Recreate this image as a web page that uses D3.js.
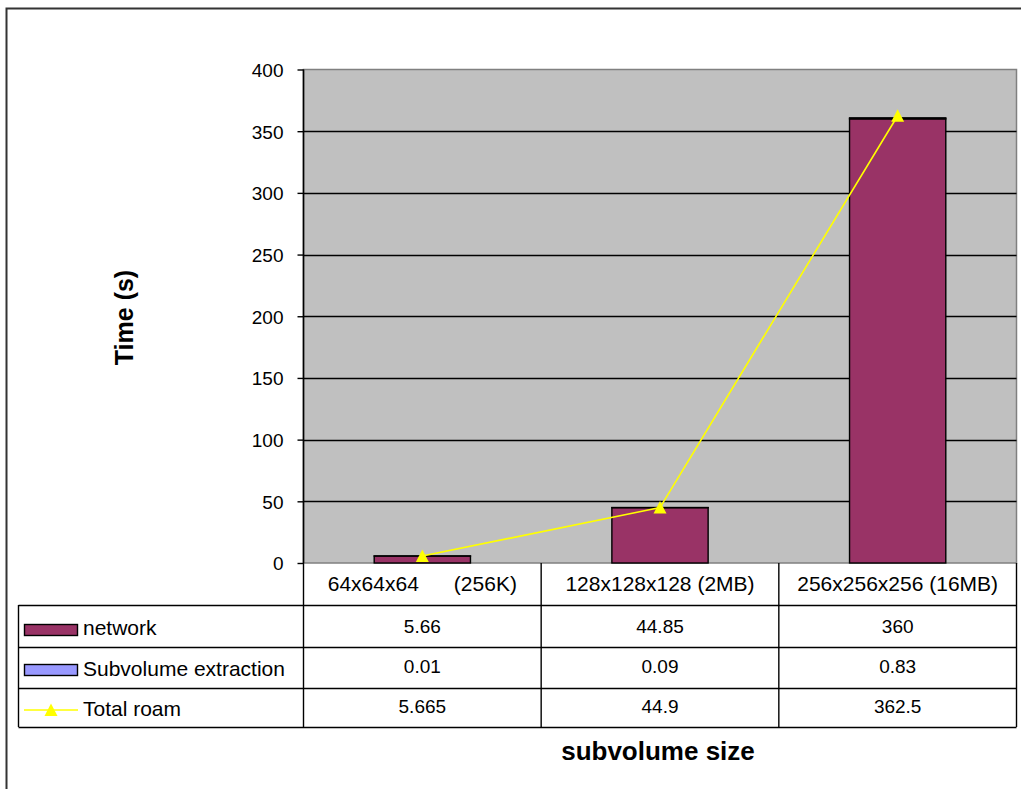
<!DOCTYPE html>
<html>
<head>
<meta charset="utf-8">
<script src="https://cdn.jsdelivr.net/npm/d3@7"></script>
<style>
  html, body { margin: 0; padding: 0; background: #fff; }
  svg { display: block; font-family: "Liberation Sans", Arial, sans-serif; }
</style>
</head>
<body>
<svg id="chart" width="1021" height="789"></svg>
<script>
// Subvolume sizes (table header / x categories)
const categories = ["64x64x64\u00a0\u00a0\u00a0\u00a0\u00a0\u00a0(256K)", "128x128x128 (2MB)", "256x256x256 (16MB)"];
// Series values (seconds)
const network = [5.66, 44.85, 360];
const subvolumeExtraction = [0.01, 0.09, 0.83];
const totalRoam = [5.665, 44.9, 362.5];
// Table cell labels, as printed
const networkLabels = ["5.66", "44.85", "360"];
const extractionLabels = ["0.01", "0.09", "0.83"];
const totalLabels = ["5.665", "44.9", "362.5"];
const seriesNames = ["network", "Subvolume extraction", "Total roam"];
const yTicks = [0, 50, 100, 150, 200, 250, 300, 350, 400];

const svg = d3.select("#chart");
const plot = { left: 303.5, right: 1016.5, top: 69.5, bottom: 563 };
const tableLeft = 18.5;
const rowLines = [563, 605, 647, 688, 727];
const FONT = "Liberation Sans, Arial, sans-serif";

const x = d3.scaleBand().domain(categories).range([plot.left, plot.right]).paddingInner(0).paddingOuter(0);
const y = d3.scaleLinear().domain([0, 400]).range([plot.bottom, plot.top]);
const barW = x.bandwidth() * 0.405;

// Outer chart frame
svg.append("rect").attr("x", 6.5).attr("y", 8.5).attr("width", 1040).attr("height", 820)
  .attr("fill", "#fff").attr("stroke", "#333").attr("stroke-width", 2);

// Plot area background
svg.append("rect").attr("x", plot.left).attr("y", plot.top)
  .attr("width", plot.right - plot.left).attr("height", plot.bottom - plot.top)
  .attr("fill", "#c0c0c0").attr("stroke", "#808080").attr("stroke-width", 1.5);

// Horizontal gridlines
svg.append("g").selectAll("line").data(yTicks.filter(d => d > 0 && d < 400)).join("line")
  .attr("x1", plot.left).attr("x2", plot.right)
  .attr("y1", d => Math.round(y(d)) + 0.5).attr("y2", d => Math.round(y(d)) + 0.5)
  .attr("stroke", "#000").attr("stroke-width", 1.3);

// Y axis
const yAxis = d3.axisLeft(y).tickValues(yTicks).tickSize(6).tickPadding(14).tickFormat(d3.format("d"));
const gy = svg.append("g").attr("transform", `translate(${plot.left},0)`).call(yAxis);
gy.select(".domain").attr("stroke", "#000").attr("stroke-width", 1.6).attr("d", `M0,${plot.top}V${plot.bottom}`);
gy.selectAll(".tick line").attr("stroke", "#000").attr("stroke-width", 1.4);
gy.selectAll(".tick text").attr("font-size", 19).attr("fill", "#000").attr("font-family", FONT)
  .attr("dy", "0.36em");

// Stacked bars: network, then subvolume extraction on top
const stacked = categories.map((c, i) => ({ c, net: network[i], ext: subvolumeExtraction[i] }));
svg.append("g").selectAll("rect").data(stacked).join("rect")
  .attr("x", d => x(d.c) + (x.bandwidth() - barW) / 2)
  .attr("y", d => y(d.net))
  .attr("width", barW)
  .attr("height", d => y(0) - y(d.net))
  .attr("fill", "#993366").attr("stroke", "#000").attr("stroke-width", 1.4);
svg.append("g").selectAll("rect").data(stacked).join("rect")
  .attr("x", d => x(d.c) + (x.bandwidth() - barW) / 2)
  .attr("y", d => y(d.net + d.ext))
  .attr("width", barW)
  .attr("height", d => y(d.net) - y(d.net + d.ext))
  .attr("fill", "#9999ff").attr("stroke", "#000").attr("stroke-width", 1.4);

// Total roam line with triangle markers
const triPath = "M0,-6.5L6.5,6L-6.5,6Z";
const line = d3.line().x((d, i) => x(categories[i]) + x.bandwidth() / 2).y(d => y(d));
svg.append("path").datum(totalRoam).attr("d", line)
  .attr("fill", "none").attr("stroke", "#ffff00").attr("stroke-width", 1.6);
svg.append("g").selectAll("path").data(totalRoam).join("path")
  .attr("d", triPath)
  .attr("transform", (d, i) => `translate(${x(categories[i]) + x.bandwidth() / 2},${y(d)})`)
  .attr("fill", "#ffff00");

// Data table
const tg = svg.append("g").attr("stroke", "#000").attr("stroke-width", 1.4);
tg.append("line").attr("x1", plot.right).attr("x2", plot.right).attr("y1", rowLines[0]).attr("y2", rowLines[4]);
tg.append("line").attr("x1", tableLeft).attr("x2", tableLeft).attr("y1", rowLines[1]).attr("y2", rowLines[4]);
categories.forEach(c => {
  tg.append("line").attr("x1", x(c)).attr("x2", x(c)).attr("y1", rowLines[0]).attr("y2", rowLines[4]);
});
rowLines.slice(1).forEach(r => {
  tg.append("line").attr("x1", tableLeft).attr("x2", plot.right).attr("y1", r + 0.5).attr("y2", r + 0.5);
});

const cellText = (tx, ty, t) => svg.append("text").attr("x", tx).attr("y", ty)
  .attr("text-anchor", "middle").attr("font-size", 19).attr("fill", "#000").text(t);
categories.forEach((c, i) => {
  const cx = x(c) + x.bandwidth() / 2;
  cellText(cx, 591, c).attr("font-size", 21);
  cellText(cx, 633, networkLabels[i]);
  cellText(cx, 673, extractionLabels[i]);
  cellText(cx, 713, totalLabels[i]);
});

// Legend keys in the table's first column
svg.append("rect").attr("x", 24.5).attr("y", 624.5).attr("width", 53).attr("height", 11)
  .attr("fill", "#993366").attr("stroke", "#000").attr("stroke-width", 1.4);
svg.append("rect").attr("x", 24.5).attr("y", 664.5).attr("width", 53).attr("height", 11)
  .attr("fill", "#9999ff").attr("stroke", "#000").attr("stroke-width", 1.4);
svg.append("line").attr("x1", 24).attr("x2", 78).attr("y1", 710).attr("y2", 710)
  .attr("stroke", "#ffff00").attr("stroke-width", 1.6);
svg.append("path").attr("d", triPath).attr("transform", "translate(51,710)").attr("fill", "#ffff00");
const nameBaselines = [635, 676, 716];
seriesNames.forEach((n, i) => {
  svg.append("text").attr("x", 83).attr("y", nameBaselines[i]).attr("font-size", 21)
    .attr("fill", "#000").text(n);
});

// Axis titles
svg.append("text").attr("transform", "translate(133,317.5) rotate(-90)")
  .attr("text-anchor", "middle").attr("font-size", 25).attr("font-weight", "bold").text("Time (s)");
svg.append("text").attr("x", 658).attr("y", 760).attr("text-anchor", "middle")
  .attr("font-size", 26).attr("font-weight", "bold").text("subvolume size");
</script>
</body>
</html>
